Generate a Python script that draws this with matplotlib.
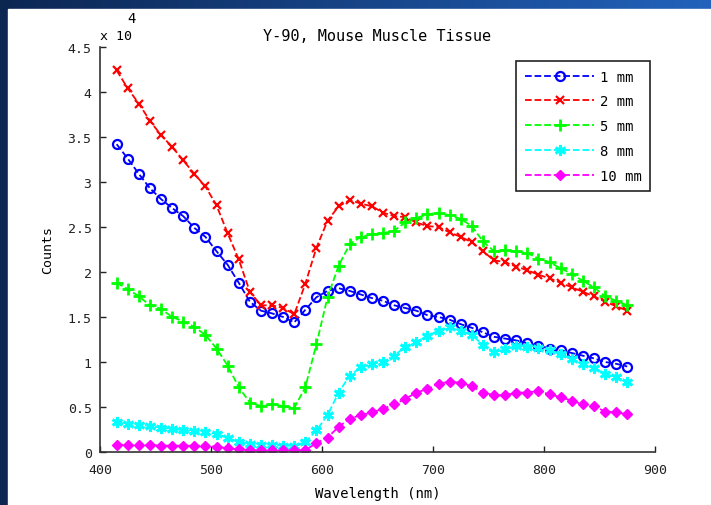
import matplotlib
matplotlib.use("Agg")
import matplotlib.pyplot as plt
from matplotlib.patches import Rectangle
import numpy as np

# wavelength samples (nm)
wavelength = list(range(415, 876, 10))

# counts in units of 1e4
counts_1mm = [3.42, 3.26, 3.09, 2.93, 2.81, 2.71, 2.62, 2.49, 2.39, 2.23,
              2.08, 1.88, 1.67, 1.57, 1.54, 1.50, 1.44, 1.58, 1.72, 1.79,
              1.82, 1.79, 1.75, 1.71, 1.68, 1.63, 1.60, 1.57, 1.52, 1.50,
              1.47, 1.42, 1.38, 1.33, 1.28, 1.26, 1.24, 1.21, 1.18, 1.15,
              1.13, 1.10, 1.07, 1.04, 1.00, 0.98, 0.95]
counts_2mm = [4.24, 4.04, 3.87, 3.68, 3.52, 3.39, 3.24, 3.09, 2.95, 2.74,
              2.43, 2.14, 1.78, 1.63, 1.63, 1.60, 1.53, 1.87, 2.27, 2.57,
              2.73, 2.80, 2.76, 2.73, 2.66, 2.62, 2.61, 2.55, 2.51, 2.50,
              2.44, 2.39, 2.33, 2.23, 2.13, 2.11, 2.06, 2.02, 1.97, 1.93,
              1.88, 1.83, 1.78, 1.73, 1.67, 1.62, 1.57]
counts_5mm = [1.88, 1.81, 1.73, 1.63, 1.59, 1.50, 1.45, 1.39, 1.30, 1.15,
              0.96, 0.72, 0.55, 0.51, 0.53, 0.51, 0.49, 0.72, 1.20, 1.72,
              2.07, 2.31, 2.39, 2.42, 2.43, 2.46, 2.55, 2.60, 2.64, 2.66,
              2.63, 2.59, 2.51, 2.34, 2.23, 2.24, 2.23, 2.21, 2.15, 2.11,
              2.04, 1.98, 1.90, 1.83, 1.73, 1.68, 1.63]
counts_8mm = [0.33, 0.31, 0.30, 0.29, 0.27, 0.26, 0.24, 0.23, 0.22, 0.20,
              0.16, 0.11, 0.09, 0.08, 0.08, 0.07, 0.07, 0.11, 0.24, 0.41,
              0.66, 0.85, 0.94, 0.98, 1.00, 1.07, 1.17, 1.22, 1.29, 1.35,
              1.39, 1.35, 1.30, 1.19, 1.11, 1.14, 1.18, 1.17, 1.16, 1.13,
              1.09, 1.03, 0.98, 0.93, 0.87, 0.83, 0.78]
counts_10mm = [0.08, 0.08, 0.08, 0.08, 0.07, 0.07, 0.07, 0.07, 0.07, 0.06,
               0.04, 0.03, 0.02, 0.02, 0.02, 0.02, 0.02, 0.02, 0.10, 0.16,
               0.28, 0.37, 0.41, 0.44, 0.48, 0.53, 0.59, 0.66, 0.70, 0.76,
               0.78, 0.77, 0.73, 0.66, 0.63, 0.63, 0.66, 0.66, 0.68, 0.64,
               0.61, 0.57, 0.53, 0.51, 0.45, 0.44, 0.42]

labels = ["1 mm", "2 mm", "5 mm", "8 mm", "10 mm"]
yticks = [0, 0.5, 1, 1.5, 2, 2.5, 3, 3.5, 4, 4.5]
xticks = [400, 500, 600, 700, 800, 900]

MONO = "DejaVu Sans Mono"
plt.rcParams["font.family"] = MONO

W, H = 711, 506
fig = plt.figure(figsize=(W / 100, H / 100), dpi=100)

# slide background: blue gradient strips on top and left
bg = fig.add_axes([0, 0, 1, 1])
bg.axis("off")
c0 = np.array([0x0c, 0x26, 0x52]) / 255
c1 = np.array([0x22, 0x62, 0xbc]) / 255
t = np.linspace(0, 1, 256)[None, :, None]
grad = np.repeat(c0 + (c1 - c0) * t, 4, axis=0)
bg.imshow(grad, extent=[0, 1, 0, 1], aspect="auto")
bg.add_patch(Rectangle((8 / W, 0), 1, (H - 10) / H, color="white",
                       transform=bg.transAxes))
bg.set_xlim(0, 1)
bg.set_ylim(0, 1)

ax = fig.add_axes([100 / W, (H - 453) / H, 555 / W, 405 / H])

styles = [
    (counts_1mm, "#0000ff", "o", dict(mfc="none", ms=6.5, mew=1.6)),
    (counts_2mm, "#ff0000", "x", dict(ms=6, mew=1.6)),
    (counts_5mm, "#00ff00", "+", dict(ms=8, mew=2.0)),
    (counts_8mm, "#00ffff", (6, 2, 0), dict(ms=8, mew=2.0)),
    (counts_10mm, "#ff00ff", "D", dict(ms=5, mew=1.0)),
]
for (vals, col, mk, kw), lab in zip(styles, labels):
    y = np.array(vals) * 1e4
    ax.plot(wavelength, y, linestyle="--", color=col, linewidth=1.3,
            marker=mk, mec=col, label=lab, **kw)

ax.set_xlim(400, 900)
ax.set_ylim(0, 45000)
ax.set_xticks(xticks)
ax.set_yticks([v * 1e4 for v in yticks])
ax.set_yticklabels([f"{v:g}" for v in yticks])
ax.tick_params(direction="in", length=4, width=1, labelsize=9.5, colors="#222222")
ax.tick_params(axis="x", pad=8)
ax.tick_params(axis="y", pad=6)
for s in ("top", "right"):
    ax.spines[s].set_visible(False)
for s in ("left", "bottom"):
    ax.spines[s].set_color("#333333")
    ax.spines[s].set_linewidth(1.2)

ax.set_xlabel("Wavelength (nm)", fontsize=10, labelpad=7)
ax.set_ylabel("Counts", fontsize=9.5, labelpad=10)
ax.set_title("Y-90, Mouse Muscle Tissue", fontsize=11, pad=5)

# MATLAB-style exponent label
ax.text(0.0, 1.012, "x 10", transform=ax.transAxes, fontsize=9.5, ha="left", va="bottom")
ax.text(0.05, 1.055, "4", transform=ax.transAxes, fontsize=10, ha="left", va="bottom")

leg = ax.legend(loc="upper right", bbox_to_anchor=(0.991, 0.965), fontsize=10,
                fancybox=False, edgecolor="#222222", framealpha=1,
                handlelength=5.0, handletextpad=0.4, labelspacing=0.78,
                borderpad=0.6, borderaxespad=0)
leg.get_frame().set_linewidth(1.2)

fig.savefig("out.png", dpi=100)
